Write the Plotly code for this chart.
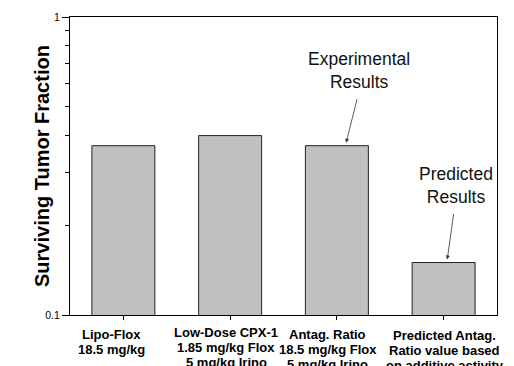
import math
import plotly.graph_objects as go

# Treatment groups and their surviving tumor fractions
categories = [
    ["Lipo-Flox", "18.5 mg/kg"],
    ["Low-Dose CPX-1", "1.85 mg/kg Flox", "5 mg/kg Irino"],
    ["Antag. Ratio", "18.5 mg/kg Flox", "5 mg/kg Irino"],
    ["Predicted Antag.", "Ratio value based", "on additive activity"],
]
surviving_fraction = [0.37, 0.40, 0.37, 0.15]
y_major_ticks = [0.1, 1]
y_minor_ticks = [0.2, 0.3, 0.4, 0.5, 0.6, 0.7, 0.8, 0.9]

FONT = "Liberation Sans"
xpos = list(range(len(categories)))

fig = go.Figure()
fig.add_trace(go.Bar(
    x=xpos,
    y=surviving_fraction,
    width=0.59,
    marker=dict(color="#c0c0c0", line=dict(color="#222222", width=1)),
    hoverinfo="skip",
))

annotations = []

# Multi-line category labels under the axis, one annotation per line
label_xshift = [-12, -4, -9, 1]
label_top = [19, 17, 19, 20]
line_gap = 15
for i, lines in enumerate(categories):
    for j, line in enumerate(lines):
        annotations.append(dict(
            x=xpos[i], xref="x", y=0, yref="paper",
            text="<b>%s</b>" % line, showarrow=False,
            xanchor="center", yanchor="middle",
            xshift=label_xshift[i], yshift=-(label_top[i] + line_gap * j),
            font=dict(family=FONT, size=13, color="black"),
        ))

# Y-axis title
annotations.append(dict(
    x=0, xref="paper", y=0.5, yref="paper",
    text="<b>Surviving Tumor Fraction</b>", showarrow=False,
    textangle=-90, xanchor="center", yanchor="middle", xshift=-28,
    font=dict(family=FONT, size=20, color="black"),
))

# Callout texts
annotations.append(dict(
    x=2, xref="x", y=math.log10(0.66), yref="y",
    text="Experimental<br>Results", showarrow=False,
    xanchor="center", yanchor="middle", xshift=22,
    font=dict(family=FONT, size=17.5, color="#111111"),
))
annotations.append(dict(
    x=3, xref="x", y=math.log10(0.271), yref="y",
    text="Predicted<br>Results", showarrow=False,
    xanchor="center", yanchor="middle", xshift=12,
    font=dict(family=FONT, size=17.5, color="#111111"),
))

# Arrows pointing at the bars
for idx, dx, ax, ay in [(2, 0.08, 12, -48), (3, 0.03, 7, -50)]:
    annotations.append(dict(
        x=xpos[idx] + dx, xref="x",
        y=math.log10(surviving_fraction[idx]), yref="y",
        text="", showarrow=True, ax=ax, ay=ay,
        arrowhead=2, arrowsize=1, arrowwidth=0.8, arrowcolor="#333333",
        standoff=3,
    ))

fig.update_layout(
    width=514, height=366,
    margin=dict(l=70, r=17, t=17, b=51),
    paper_bgcolor="white", plot_bgcolor="white",
    showlegend=False,
    annotations=annotations,
    xaxis=dict(
        range=[-0.5, len(categories) - 0.5],
        tickvals=xpos, showticklabels=False,
        ticks="outside", ticklen=4, tickwidth=1, tickcolor="black",
        showline=True, linecolor="black", linewidth=1, mirror=True,
        showgrid=False, zeroline=False, fixedrange=True,
    ),
    yaxis=dict(
        type="log", range=[-1, 0],
        tickvals=y_major_ticks, ticktext=["0.1", "1"],
        ticks="outside", ticklen=7, tickwidth=1, tickcolor="black",
        tickfont=dict(family=FONT, size=10.5, color="black"),
        minor=dict(tickvals=y_minor_ticks, ticks="outside", ticklen=4,
                   tickwidth=1, tickcolor="black", showgrid=False),
        showline=True, linecolor="black", linewidth=1, mirror=True,
        showgrid=False, zeroline=False, fixedrange=True,
    ),
)

fig.write_html("out.html")
